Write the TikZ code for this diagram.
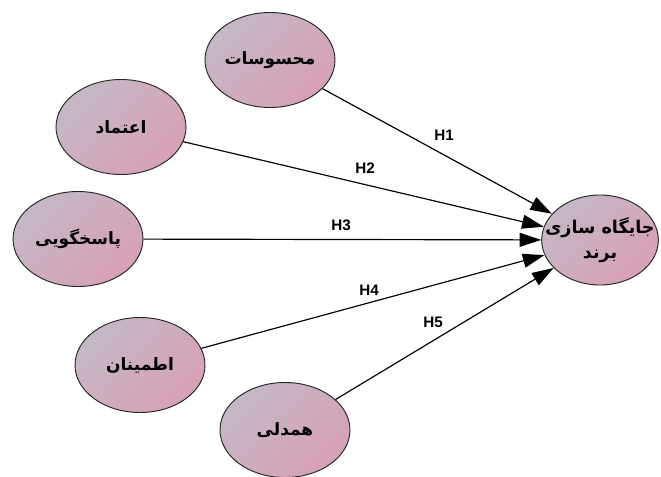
\documentclass[tikz,border=0pt]{standalone}
\usepackage{fontspec}
\setmainfont{Liberation Sans}
\newfontfamily\arabicfont[Script=Arabic]{DejaVu Sans}
\TeXXeTstate=1
\usetikzlibrary{shapes.geometric,arrows.meta}
\definecolor{ellA}{HTML}{C4B8C6}
\definecolor{ellB}{HTML}{D8A0B6}
\tikzset{
  factor/.style={ellipse, draw=black!85, line width=0.8pt, top color=ellA, bottom color=ellB,
    shading angle=45, minimum width=3.9cm, minimum height=2.85cm, inner sep=0pt,
    font=\arabicfont\bfseries\fontsize{14.5}{19}\selectfont, align=center},
  arr/.style={line width=1pt, -{Triangle[length=6.5mm,width=4.2mm]}},
  hyp/.style={font=\bfseries\fontsize{13}{14}\selectfont}
}
\begin{document}
\begin{tikzpicture}[x=0.03cm, y=-0.03cm]
            \useasboundingbox (0,0) rectangle (661,477);
            % Define vertices
            \node[factor] (mahsus) at (270, 60) {\beginR محسوسات\endR};
            \node[factor] (etemad) at (121, 127) {\beginR اعتماد\endR};
            \node[factor] (pasokh) at (78, 239) {\beginR پاسخگویی\endR};
            \node[factor] (etminan) at (140, 365) {\beginR اطمینان\endR};
            \node[factor] (hamdeli) at (285, 430) {\beginR همدلی\endR};
            \node[factor, minimum width=3.5cm, minimum height=2.7cm, inner sep=-16pt,
              font=\arabicfont\bfseries\fontsize{15}{21}\selectfont] (jaygah) at (600, 240)
              {\beginR جایگاه سازی\endR\\ \beginR برند\endR};

            % Draw edges
            \draw[arr] (mahsus) -- (jaygah);
            \draw[arr] (etemad) -- (jaygah);
            \draw[arr] (pasokh) -- (jaygah);
            \draw[arr] (etminan) -- (jaygah);
            \draw[arr] (hamdeli) -- (jaygah);

            % Labels
            \node[hyp] (h1) at (444, 135) {H1};
            \node[hyp] (h2) at (365, 168) {H2};
            \node[hyp] (h3) at (341, 225) {H3};
            \node[hyp] (h4) at (369, 290) {H4};
            \node[hyp] (h5) at (433, 322) {H5};
        \end{tikzpicture}
\end{document}
